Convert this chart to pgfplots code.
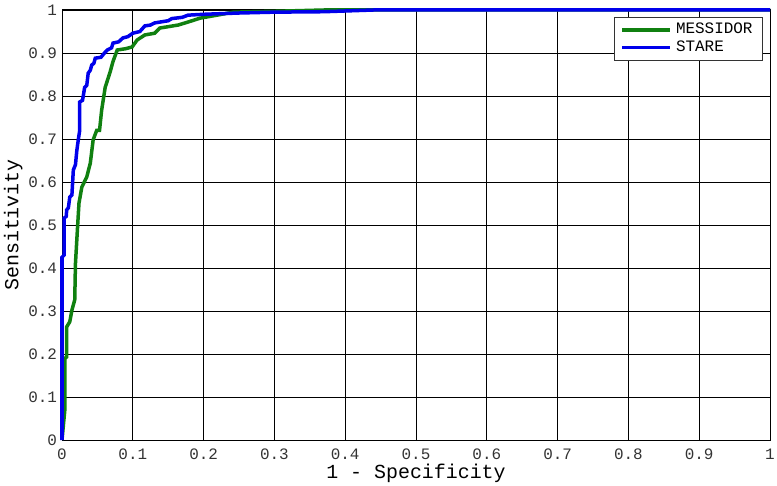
\documentclass[border=0pt]{standalone}
\usepackage{pgfplots}
\pgfplotsset{compat=1.18}
\usepackage{fontspec}
\setmainfont{Liberation Mono}
\definecolor{mgreen}{RGB}{16,128,16}
\definecolor{mblue}{RGB}{0,0,235}
\begin{document}
\begin{tikzpicture}
  \begin{axis}[
      scale only axis,
      width=354bp, height=215bp,
      xmin=0, xmax=1, ymin=0, ymax=1,
      xtick={0,0.1,...,1}, ytick={0,0.1,...,1},
      grid=major,
      grid style={black, line width=0.45bp},
      axis line style={black, line width=0.5bp},
      major tick length=0pt,
      clip=false,
      /pgf/number format/assume math mode=true,
      tick label style={font=\fontsize{8}{9}\selectfont, text=black!80},
      xticklabel style={yshift=-1bp},
      yticklabel style={xshift=1bp},
      xlabel={1 - Specificity},
      ylabel={Sensitivity},
      label style={font=\fontsize{10}{12}\selectfont},
      xlabel style={yshift=4.5bp},
      ylabel style={yshift=-4bp},
      legend style={at={(0.99,0.984)}, anchor=north east, draw=black!80,
        font=\fontsize{8}{9}\selectfont, inner xsep=3bp, inner ysep=1bp,
        row sep=-2.2bp, cells={anchor=west}},
      legend image post style={line width=1.75bp},
      legend image code/.code={\draw[#1] (0cm,0cm) -- (0.85cm,0cm);},
    ]
    \addplot[mgreen, line width=1.75bp] coordinates {
      (0,0) (0.004,0.07) (0.004,0.19) (0.0066,0.193) (0.0066,0.263)
      (0.011,0.275) (0.014,0.302) (0.018,0.326) (0.019,0.41) (0.022,0.496)
      (0.024,0.551) (0.028,0.588) (0.035,0.612) (0.04,0.644) (0.044,0.698)
      (0.049,0.72) (0.053,0.72) (0.056,0.767) (0.061,0.82) (0.068,0.856)
      (0.072,0.88) (0.078,0.907) (0.09,0.91) (0.099,0.914) (0.106,0.93)
      (0.117,0.942) (0.131,0.946) (0.138,0.958) (0.164,0.965) (0.178,0.972)
      (0.195,0.981) (0.219,0.988) (0.242,0.995) (0.3,0.997) (0.37,1) (1,1)
    };
    \addlegendentry{MESSIDOR}
    \addplot[mblue, line width=1.75bp] coordinates {
      (0,0) (0,0.425) (0.003,0.43) (0.003,0.516) (0.006,0.52) (0.0066,0.535)
      (0.009,0.54) (0.011,0.565) (0.014,0.57) (0.016,0.628) (0.019,0.64)
      (0.021,0.674) (0.023,0.698) (0.025,0.72) (0.025,0.786) (0.029,0.79)
      (0.032,0.82) (0.035,0.825) (0.037,0.853) (0.04,0.86) (0.042,0.872)
      (0.045,0.876) (0.047,0.888) (0.055,0.89) (0.06,0.9) (0.064,0.907)
      (0.07,0.912) (0.072,0.923) (0.08,0.926) (0.086,0.935) (0.093,0.938)
      (0.1,0.946) (0.11,0.95) (0.117,0.963) (0.125,0.965) (0.131,0.97)
      (0.15,0.975) (0.155,0.98) (0.17,0.983) (0.178,0.988) (0.2,0.99)
      (0.25,0.993) (0.3,0.995) (0.37,0.996) (0.44,1) (1,1)
    };
    \addlegendentry{STARE}
  \end{axis}
  \pgfresetboundingbox
  \path ([xshift=-31bp,yshift=-23bp]current axis.south west)
    rectangle ([xshift=3.5bp,yshift=5bp]current axis.north east);
\end{tikzpicture}
\end{document}
